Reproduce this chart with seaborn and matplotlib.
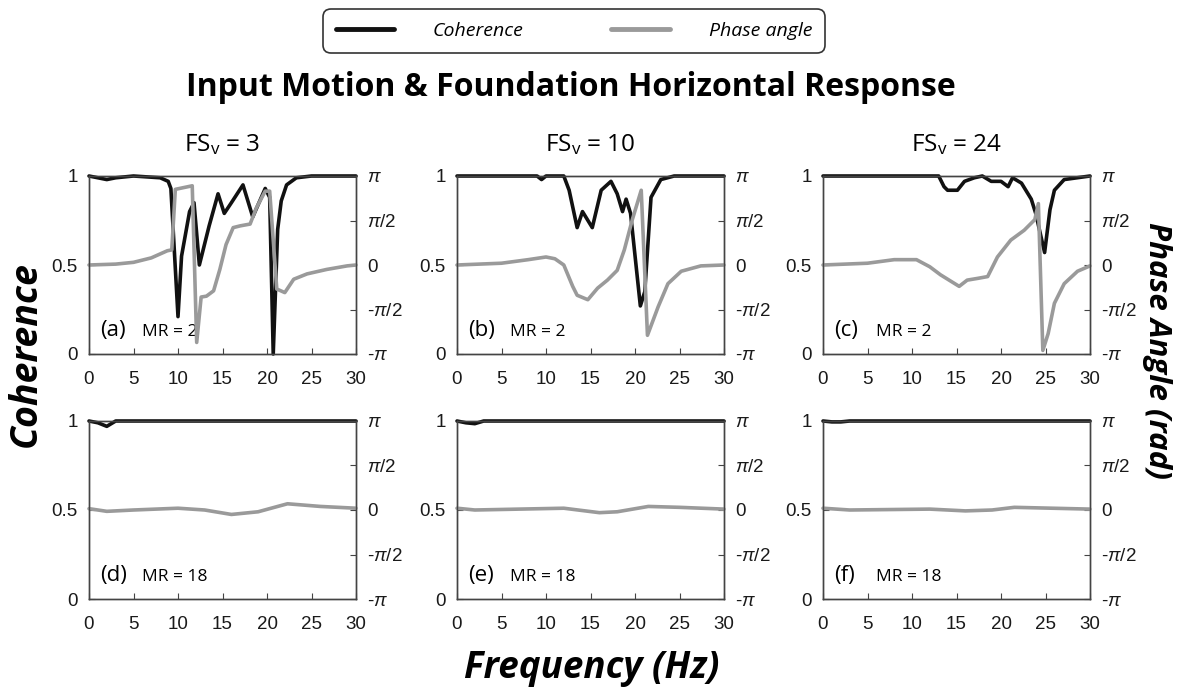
import numpy as np
import pandas as pd
import matplotlib
matplotlib.use("Agg")
import matplotlib.pyplot as plt
from matplotlib.lines import Line2D
import seaborn as sns

# ---------------- data ----------------
# phase values are in units of pi
xa_c = [0, 1, 2, 3, 5, 8, 8.9, 9.2, 10.0, 10.4, 11.3, 11.8, 12.4, 13.5, 14.5, 15.2, 16.0, 17.3, 18.4, 19.8, 20.3, 20.7, 21.2, 21.6, 22.2, 23.3, 25, 30]
ya_c = [1.0, 0.99, 0.98, 0.99, 1.0, 0.99, 0.97, 0.93, 0.21, 0.55, 0.80, 0.85, 0.50, 0.72, 0.90, 0.79, 0.85, 0.95, 0.77, 0.93, 0.88, 0.0, 0.70, 0.86, 0.95, 0.99, 1.0, 1.0]
xa_p = [0, 3, 5, 7, 8.8, 9.3, 9.7, 11.6, 12.1, 12.6, 13.2, 14.0, 14.7, 15.4, 16.2, 17.0, 18.1, 18.8, 19.8, 20.3, 21.1, 22.0, 23.0, 24.5, 26.7, 29, 30]
ya_p = [0, 0.01, 0.03, 0.08, 0.16, 0.17, 0.85, 0.89, -0.87, -0.36, -0.35, -0.29, -0.05, 0.23, 0.42, 0.44, 0.46, 0.64, 0.83, 0.83, -0.27, -0.31, -0.16, -0.10, -0.05, -0.01, 0]

xb_c = [0, 5, 9, 9.5, 10, 12, 12.6, 13.5, 14.1, 15.2, 16.2, 17.3, 18.0, 18.6, 19.0, 19.5, 20.6, 21.1, 21.8, 22.9, 24.4, 30]
yb_c = [1.0, 1.0, 1.0, 0.98, 1.0, 1.0, 0.92, 0.71, 0.80, 0.71, 0.92, 0.97, 0.90, 0.80, 0.87, 0.79, 0.27, 0.35, 0.88, 0.98, 1.0, 1.0]
xb_p = [0, 5, 8, 10, 11, 12, 13, 13.5, 14.7, 15.8, 16.9, 18.0, 18.8, 19.7, 20.7, 21.4, 22.6, 23.7, 25.2, 27.4, 30]
yb_p = [0, 0.02, 0.06, 0.09, 0.07, 0.0, -0.24, -0.34, -0.39, -0.26, -0.17, -0.06, 0.17, 0.51, 0.84, -0.79, -0.47, -0.21, -0.07, -0.01, 0]

xc_c = [0, 13, 13.6, 14.0, 15.1, 15.9, 17.0, 17.9, 18.9, 20.0, 20.8, 21.3, 22.3, 23.4, 23.9, 24.9, 25.5, 26.0, 27.1, 30]
yc_c = [1.0, 1.0, 0.94, 0.92, 0.92, 0.97, 0.99, 1.0, 0.97, 0.97, 0.94, 0.99, 0.96, 0.87, 0.79, 0.57, 0.81, 0.92, 0.98, 1.0]
xc_p = [0, 5, 8, 10.5, 12, 13.2, 15.3, 16.2, 17.4, 18.5, 19.6, 21.1, 22.6, 23.8, 24.2, 24.7, 25.3, 26.0, 27.1, 28.6, 30]
yc_p = [0, 0.02, 0.06, 0.06, -0.02, -0.11, -0.24, -0.17, -0.15, -0.13, 0.09, 0.28, 0.39, 0.51, 0.69, -0.96, -0.77, -0.43, -0.21, -0.07, -0.01]

xd_c = [0, 1, 2, 3, 30]
yd_c = [1.0, 0.99, 0.97, 1.0, 1.0]
xd_p = [0, 2, 5, 10, 13, 16, 19, 22.3, 26, 30]
yd_p = [0.015, -0.015, 0.0, 0.02, 0.0, -0.05, -0.02, 0.07, 0.04, 0.02]

xe_c = [0, 1, 2, 3, 30]
ye_c = [1.0, 0.99, 0.985, 1.0, 1.0]
xe_p = [0, 2, 12, 16, 18, 21.5, 25, 30]
ye_p = [0.02, 0.0, 0.02, -0.03, -0.02, 0.04, 0.03, 0.01]

xf_c = [0, 1, 2, 3, 30]
yf_c = [1.0, 0.995, 0.995, 1.0, 1.0]
xf_p = [0, 3, 12, 16, 19, 21.5, 30]
yf_p = [0.02, 0.0, 0.01, -0.01, 0.0, 0.03, 0.01]

panels = [
    ("(a)", "MR = 2", xa_c, ya_c, xa_p, ya_p),
    ("(b)", "MR = 2", xb_c, yb_c, xb_p, yb_p),
    ("(c)", "MR = 2", xc_c, yc_c, xc_p, yc_p),
    ("(d)", "MR = 18", xd_c, yd_c, xd_p, yd_p),
    ("(e)", "MR = 18", xe_c, ye_c, xe_p, ye_p),
    ("(f)", "MR = 18", xf_c, yf_c, xf_p, yf_p),
]
col_titles = ["3", "10", "24"]
phase_ticklabels = [r"-$\pi$", r"-$\pi$/2", "0", r"$\pi$/2", r"$\pi$"]
x_ticks = [0, 5, 10, 15, 20, 25, 30]

# ---------------- style ----------------
sns.set_theme(style="white")
plt.rcParams["font.family"] = ["Liberation Sans", "DejaVu Sans"]
plt.rcParams["text.color"] = "black"
plt.rcParams["mathtext.fontset"] = "custom"
plt.rcParams["mathtext.rm"] = "Liberation Sans"
plt.rcParams["mathtext.it"] = "Liberation Sans:italic"

W, H = 1192, 690
fig = plt.figure(figsize=(W / 100, H / 100), dpi=100)

lefts = [89, 457, 823]
tops = [176, 421]
pw, ph = 267, 178

BLACK = "#111111"
GRAY = "#9a9a9a"
SPINE = "#444444"
TICKC = "#1a1a1a"
LW = 2.6

for i, (tag, mr, xc, yc, xp, yp) in enumerate(panels):
    r, c = divmod(i, 3)
    l = lefts[c]
    t = tops[r]
    ax = fig.add_axes([l / W, 1 - (t + ph) / H, pw / W, ph / H])
    ax2 = ax.twinx()
    dfc = pd.DataFrame({"f": xc, "v": yc})
    dfp = pd.DataFrame({"f": xp, "v": np.array(yp) * np.pi})
    sns.lineplot(data=dfc, x="f", y="v", ax=ax, color=BLACK, lw=LW, clip_on=False)
    sns.lineplot(data=dfp, x="f", y="v", ax=ax2, color=GRAY, lw=LW, clip_on=False)
    ax.set_xlim(0, 30)
    ax.set_ylim(0, 1)
    ax2.set_ylim(-np.pi, np.pi)
    ax.set_xticks(x_ticks)
    ax.set_yticks([0, 0.5, 1])
    ax.set_yticklabels(["0", "0.5", "1"])
    ax2.set_yticks([-np.pi, -np.pi / 2, 0, np.pi / 2, np.pi])
    ax2.set_yticklabels(phase_ticklabels)
    for a in (ax, ax2):
        a.set_xlabel("")
        a.set_ylabel("")
        for s in a.spines.values():
            s.set_color(SPINE)
            s.set_linewidth(1.0)
    ax.tick_params(axis="x", direction="in", length=4, width=0.8, color=SPINE,
                   labelsize=13.5, labelcolor=TICKC, pad=12, bottom=True)
    ax.tick_params(axis="y", direction="in", length=4, width=0.8, color=SPINE,
                   labelsize=13.5, labelcolor=TICKC, pad=8, left=True)
    ax2.tick_params(axis="y", direction="in", length=4, width=0.8, color=SPINE,
                    labelsize=13.5, labelcolor=TICKC, pad=8, right=True)
    ax.text(1.2, 0.1, tag, fontsize=16, family="Open Sans", transform=ax.transData,
            va="baseline", ha="left", color="black")
    ax.text(6.0, 0.1, mr, fontsize=12.5, family="Open Sans", transform=ax.transData,
            va="baseline", ha="left", color="black")
    if r == 0:
        fig.text((l + pw / 2) / W, 1 - 145 / H, r"FS$_\mathregular{v}$ = " + col_titles[c],
                 ha="center", va="center", fontsize=17.5, family="Open Sans")

fig.text(571 / W, 1 - 88 / H, "Input Motion & Foundation Horizontal Response",
         ha="center", va="center", fontsize=23, fontweight="bold", family="Open Sans")
fig.text(26 / W, 1 - 354 / H, "Coherence", rotation=90, ha="center", va="center",
         fontsize=27, fontweight="bold", fontstyle="italic", family="Open Sans")
fig.text(1157 / W, 1 - 350 / H, "Phase Angle (rad)", rotation=-90, ha="center", va="center",
         fontsize=22.5, fontweight="bold", fontstyle="italic", family="Open Sans")
fig.text(592 / W, 1 - 668 / H, "Frequency (Hz)", ha="center", va="center",
         fontsize=26.5, fontweight="bold", fontstyle="italic", family="Open Sans")

handles = [Line2D([], [], color=BLACK, lw=3.5), Line2D([], [], color=GRAY, lw=3.5)]
leg = fig.legend(handles, ["Coherence", "Phase angle"], loc="center",
                 bbox_to_anchor=(574 / W, 1 - 31 / H), ncol=2, frameon=True,
                 fancybox=True, edgecolor="black", handlelength=3.0,
                 columnspacing=4.5, handletextpad=2.0, borderpad=0.45,
                 prop={"family": "Open Sans", "style": "italic", "size": 14})
leg.get_frame().set_linewidth(1.2)
leg.get_frame().set_boxstyle("round,pad=0.2,rounding_size=0.4")

fig.savefig("out.png", dpi=100)
